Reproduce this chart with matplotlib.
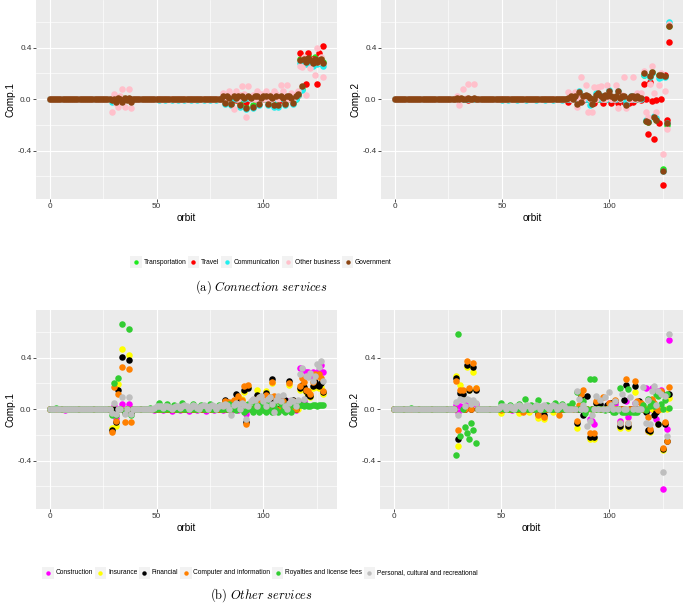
import numpy as np
import matplotlib
matplotlib.use("Agg")
import matplotlib.pyplot as plt
from matplotlib.patches import Rectangle
from matplotlib.lines import Line2D

plt.rcParams['font.family'] = ['Liberation Sans', 'DejaVu Sans']
plt.rcParams['axes.unicode_minus'] = False

N_ORBIT = 129  # orbits 0..128; values not listed below are read as 0.0

# ---------------- (a) Connection services ----------------
conn_labels = ["Transportation", "Travel", "Communication", "Other business", "Government"]
conn_colors = ["#1FEA1F", "#FF0000", "#22EEEE", "#FFC0CB", "#8B4513"]

transport_c1 = {29: -0.01, 34: 0.01, 85: -0.03, 89: -0.04, 92: -0.06, 95: -0.05, 105: -0.04, 110: -0.03,
                116: 0.03, 117: 0.31, 118: 0.08, 119: 0.32, 120: 0.30, 121: 0.34, 122: 0.31, 123: 0.29,
                124: 0.33, 125: 0.30, 126: 0.31, 127: 0.32, 128: 0.29}
travel_c1 = {34: -0.01, 81: 0.005, 82: 0.01, 84: 0.015, 85: 0.005, 86: 0.01, 87: -0.005, 88: 0.01, 89: 0.005,
             90: 0.015, 92: -0.02, 93: 0.01, 94: 0.005, 95: 0.01, 97: 0.015, 98: 0.005, 99: 0.01, 101: 0.01,
             102: 0.005, 103: 0.015, 105: 0.01, 106: 0.005, 107: 0.01, 108: -0.005, 109: 0.01, 110: 0.005,
             111: 0.015, 113: 0.01, 114: 0.005, 115: 0.03,
             116: 0.03, 117: 0.36, 118: 0.28, 119: 0.30, 120: 0.12, 121: 0.36, 122: 0.29, 123: 0.31,
             124: 0.30, 125: 0.12, 126: 0.36, 127: 0.28, 128: 0.41}
comm_c1 = {29: -0.02, 31: -0.01, 38: -0.01,
           51: -0.006, 54: -0.006, 57: -0.006, 60: -0.006, 63: -0.006, 66: -0.006, 69: -0.006, 72: -0.006,
           75: -0.006, 78: -0.006,
           81: 0.01, 82: -0.04, 83: 0.01, 85: -0.05, 86: 0.01, 88: 0.01, 89: -0.06, 90: 0.01, 92: -0.08,
           93: 0.01, 95: -0.07, 96: 0.01, 98: -0.05, 100: 0.01, 102: -0.05, 103: 0.01, 105: -0.06, 107: -0.06,
           108: 0.01, 110: -0.05, 112: 0.01, 114: -0.04,
           116: 0.03, 117: 0.28, 118: 0.07, 119: 0.29, 120: 0.27, 121: 0.30, 122: 0.28, 123: 0.26,
           124: 0.29, 125: 0.27, 126: 0.28, 127: 0.29, 128: 0.26}
other_c1 = {29: -0.10, 30: 0.04, 31: -0.03, 32: -0.06, 33: 0.02, 34: 0.08, 35: -0.06, 37: 0.08, 38: -0.07,
            81: 0.05, 82: 0.02, 84: 0.065, 85: 0.03, 86: -0.08, 87: 0.06, 89: 0.03, 90: 0.10, 91: 0.04,
            92: -0.14, 93: 0.10, 95: 0.03, 97: 0.06, 99: 0.04, 101: 0.065, 103: 0.03, 105: 0.06, 106: 0.04,
            108: 0.11, 109: 0.06, 111: 0.11, 113: 0.05, 115: 0.04,
            116: 0.06, 117: 0.26, 118: 0.25, 119: 0.33, 120: 0.03, 121: 0.31, 122: 0.24, 123: 0.30,
            124: 0.19, 125: 0.40, 126: 0.29, 127: 0.33, 128: 0.17}
gov_c1 = {29: -0.01, 31: -0.02, 32: 0.01, 34: -0.02, 35: 0.01, 36: -0.01, 37: 0.01, 38: -0.02,
          81: 0.02, 82: -0.03, 83: 0.02, 84: 0.01, 85: -0.04, 86: 0.02, 87: 0.01, 88: 0.02, 89: -0.05,
          90: 0.02, 91: 0.01, 92: -0.07, 93: 0.02, 94: 0.01, 95: -0.06, 96: 0.02, 97: 0.02, 98: -0.04,
          99: 0.01, 100: 0.02, 101: 0.02, 102: -0.04, 103: 0.02, 104: 0.01, 105: -0.05, 106: 0.02,
          107: -0.05, 108: 0.02, 109: 0.01, 110: -0.04, 111: 0.02, 112: 0.02, 113: 0.01, 114: -0.03, 115: 0.02,
          116: 0.04, 117: 0.30, 118: 0.10, 119: 0.31, 120: 0.29, 121: 0.32, 122: 0.30, 123: 0.28,
          124: 0.31, 125: 0.29, 126: 0.30, 127: 0.31, 128: 0.28}

transport_c2 = {116: 0.19, 117: -0.17, 118: -0.18, 119: 0.18, 120: 0.21, 121: -0.14, 122: -0.16, 123: 0.19,
                124: 0.18, 125: -0.545, 126: 0.18, 127: -0.20, 128: 0.57}
travel_c2 = {34: -0.005, 81: -0.025, 83: 0.005, 85: 0.01, 88: -0.01, 90: 0.005, 92: -0.02, 93: -0.03,
             95: 0.005, 97: -0.03, 99: 0.005, 101: -0.03, 103: 0.005, 104: -0.03, 107: -0.02, 109: -0.03,
             111: -0.02, 113: 0.005, 115: -0.01,
             116: 0.115, 118: -0.27, 119: 0.135, 120: -0.015, 121: -0.31, 122: -0.01, 123: -0.19,
             125: -0.67, 126: 0.19, 127: -0.16, 128: 0.445}
comm_c2 = {29: 0.005, 50: -0.006, 53: -0.006, 57: -0.006, 61: -0.006, 66: -0.006, 70: -0.006, 74: -0.006,
           78: -0.006, 83: 0.01, 86: 0.06, 88: 0.02, 91: -0.05, 94: 0.05, 95: 0.05, 97: 0.02, 100: 0.07,
           102: 0.01, 104: 0.06, 106: 0.01, 108: -0.04, 110: 0.02, 113: 0.02,
           116: 0.19, 117: -0.16, 118: -0.17, 119: 0.17, 120: 0.20, 121: -0.13, 122: -0.15, 123: 0.16,
           124: 0.17, 125: -0.56, 126: 0.17, 127: -0.19, 128: 0.60}
other_c2 = {29: 0.02, 30: -0.05, 32: 0.075, 33: 0.01, 34: 0.12, 37: 0.12,
            81: 0.055, 84: 0.055, 85: -0.06, 87: 0.17, 89: 0.11, 90: -0.10, 92: -0.10, 93: 0.09, 95: 0.095,
            96: 0.10, 99: 0.11, 100: 0.03, 103: 0.11, 104: -0.07, 106: 0.03, 107: 0.17, 108: -0.07,
            111: 0.17, 113: 0.05, 115: 0.05,
            116: 0.22, 117: -0.10, 118: -0.14, 119: 0.12, 120: 0.26, 121: 0.045, 122: -0.10, 123: 0.11,
            124: 0.20, 125: -0.43, 126: 0.065, 127: -0.23, 128: 0.58}
gov_c2 = {29: 0.005, 31: 0.01, 34: 0.01, 37: 0.01,
          81: 0.01, 82: 0.02, 84: 0.02, 85: -0.035, 86: 0.056, 87: -0.02, 88: 0.02, 89: 0.03, 90: 0.02,
          91: 0.01, 92: -0.04, 94: 0.03, 95: 0.05, 96: 0.02, 97: 0.01, 98: 0.03, 99: 0.02, 100: 0.065,
          101: 0.02, 102: 0.01, 103: 0.02, 104: 0.06, 105: 0.01, 106: 0.02, 107: 0.02, 108: -0.05,
          109: 0.01, 110: 0.02, 111: 0.02, 112: 0.01, 113: 0.02, 114: 0.01, 115: 0.01,
          116: 0.20, 117: -0.17, 118: -0.18, 119: 0.18, 120: 0.21, 121: -0.14, 122: -0.16, 123: 0.19,
          124: 0.19, 125: -0.56, 126: 0.18, 127: -0.19, 128: 0.57}

# ---------------- (b) Other services ----------------
oth_labels = ["Construction", "Insurance", "Financial", "Computer and information",
              "Royalties and license fees", "Personal, cultural and recreational"]
oth_colors = ["#FF00FF", "#FFFF00", "#000000", "#FF8000", "#32CD32", "#BEBEBE"]

constr_c1 = {7: -0.005, 30: 0.02, 31: -0.07, 34: 0.04, 35: -0.02, 37: 0.04, 38: -0.03,
             49: -0.01, 53: -0.01, 57: -0.012, 61: -0.01, 65: -0.012, 69: -0.01, 73: -0.012, 77: -0.01,
             81: -0.01, 85: -0.015, 88: -0.01, 92: -0.04, 95: -0.015, 98: -0.01, 101: -0.01, 104: 0.07,
             105: -0.015, 108: 0.07, 109: -0.01, 112: 0.06, 113: -0.01, 115: -0.01,
             116: 0.04, 117: 0.32, 118: 0.31, 119: 0.06, 120: 0.29, 121: 0.29, 122: 0.26, 123: 0.29,
             124: 0.27, 125: 0.28, 126: 0.30, 127: 0.34, 128: 0.29}
insur_c1 = {29: -0.15, 31: -0.13, 32: 0.195, 34: 0.47, 35: -0.02, 37: 0.42, 38: -0.03,
            82: 0.05, 84: 0.04, 86: 0.06, 88: 0.09, 90: 0.08, 91: 0.13, 93: 0.17, 95: 0.06, 97: 0.145,
            99: 0.07, 101: 0.14, 103: 0.08, 104: 0.20, 106: 0.07, 108: 0.05, 110: 0.06, 112: 0.19, 114: 0.05,
            117: 0.15, 118: 0.17, 119: 0.16, 120: 0.13, 121: 0.10, 122: 0.09, 123: 0.16, 124: 0.19,
            125: 0.17, 126: 0.16, 127: 0.17, 128: 0.12}
finan_c1 = {29: -0.16, 31: -0.10, 32: 0.15, 34: 0.405, 35: -0.02, 37: 0.385, 38: -0.03,
            82: 0.07, 84: 0.05, 86: 0.06, 87: 0.12, 89: 0.06, 91: 0.15, 92: -0.10, 93: 0.165, 95: 0.07,
            97: 0.11, 99: 0.07, 101: 0.125, 103: 0.08, 104: 0.23, 106: 0.07, 108: 0.06, 110: 0.07,
            112: 0.22, 114: 0.07,
            116: 0.05, 117: 0.16, 118: 0.19, 119: 0.17, 120: 0.14, 121: 0.11, 122: 0.10, 123: 0.18,
            124: 0.21, 125: 0.19, 126: 0.18, 127: 0.20, 128: 0.13}
comp_c1 = {29: -0.18, 30: 0.17, 31: -0.09, 32: 0.12, 34: 0.325, 35: -0.10, 37: 0.31, 38: -0.10,
           82: 0.06, 84: 0.055, 86: 0.07, 88: 0.10, 90: 0.07, 91: 0.18, 92: -0.12, 93: 0.185, 95: 0.06,
           97: 0.08, 99: 0.06, 101: 0.11, 103: 0.09, 104: 0.21, 105: 0.10, 107: 0.08, 109: 0.06,
           112: 0.205, 114: 0.06,
           116: 0.03, 117: 0.18, 118: 0.245, 119: 0.21, 120: 0.15, 121: 0.14, 122: 0.12, 123: 0.21,
           124: 0.27, 125: 0.26, 126: 0.27, 127: 0.24, 128: 0.14}
royal_c1 = {3: 0.012, 29: -0.05, 30: 0.20, 31: -0.05, 32: 0.24, 34: 0.66, 35: -0.03, 37: 0.62, 38: -0.05,
            47: 0.01, 51: 0.045, 55: 0.04, 58: 0.035, 62: 0.045, 67: 0.04, 71: 0.035, 75: 0.04, 79: 0.03,
            82: 0.03, 84: 0.04, 86: 0.03, 87: -0.01, 88: 0.03, 90: 0.04, 91: -0.02, 92: -0.01, 93: 0.04,
            95: -0.02, 96: 0.04, 98: -0.02, 99: 0.03, 100: -0.01, 101: -0.02, 102: 0.04, 103: -0.01,
            104: -0.02, 105: 0.03, 106: -0.01, 107: -0.02, 108: 0.04, 109: -0.01, 110: -0.02, 111: 0.03,
            112: -0.01, 113: -0.02, 114: 0.03, 115: 0.04,
            116: 0.03, 117: 0.035, 118: 0.03, 119: 0.025, 120: 0.03, 121: 0.02, 122: 0.025, 123: 0.03,
            124: 0.03, 125: 0.025, 126: 0.03, 127: 0.035, 128: 0.03}
pers_c1 = {29: -0.03, 30: 0.05, 31: -0.04, 34: 0.095, 35: -0.04, 37: 0.095, 38: -0.04,
           49: 0.01, 50: 0.02, 51: 0.025, 52: 0.02, 53: 0.01, 54: 0.02, 55: 0.025, 56: 0.015, 58: 0.015,
           59: 0.025, 60: 0.02, 61: 0.005, 62: 0.02, 63: 0.03, 64: 0.02, 66: 0.015, 67: 0.03, 68: 0.025,
           69: 0.01, 71: 0.02, 72: 0.03, 73: 0.02, 75: 0.02, 76: 0.03, 77: 0.02, 79: 0.02, 80: 0.03,
           81: 0.02, 82: 0.04, 83: 0.03, 85: -0.045, 86: 0.03, 87: 0.05, 88: 0.04, 90: 0.05, 91: 0.03,
           92: -0.08, 93: 0.02, 94: 0.06, 95: 0.08, 96: 0.07, 97: 0.02, 98: 0.09, 99: 0.10, 100: 0.06,
           101: 0.02, 102: 0.08, 103: 0.09, 104: 0.04, 105: -0.02, 106: 0.07, 107: 0.10, 108: 0.06,
           109: 0.11, 110: 0.02, 112: 0.05, 113: 0.07, 114: 0.06, 115: 0.02,
           116: 0.07, 117: 0.27, 118: 0.32, 119: 0.08, 120: 0.26, 121: 0.25, 122: 0.28, 123: 0.22,
           124: 0.26, 125: 0.35, 126: 0.33, 127: 0.37, 128: 0.22}

constr_c2 = {29: 0.03, 30: -0.025, 31: 0.02, 34: 0.04, 35: 0.03, 37: 0.05, 38: 0.04,
             55: -0.01, 62: -0.01, 69: -0.01,
             91: -0.08, 92: -0.09, 93: -0.12, 95: 0.03, 100: 0.05, 103: 0.04, 105: -0.09, 108: 0.06,
             109: -0.065, 112: 0.05, 117: 0.16, 118: -0.17, 120: 0.16, 122: -0.08, 123: 0.14, 124: 0.15,
             125: -0.625, 126: -0.11, 127: -0.155, 128: 0.535}
insur_c2 = {29: 0.26, 30: -0.29, 31: 0.19, 32: 0.08, 34: 0.33, 35: 0.15, 37: 0.29, 38: 0.16,
            50: -0.03, 58: -0.03, 63: -0.02, 67: -0.07, 70: -0.08, 74: -0.02,
            85: -0.15, 87: 0.09, 91: -0.23, 93: -0.23, 95: 0.03, 100: 0.04, 105: -0.15, 109: -0.15,
            112: 0.13, 118: -0.17, 119: -0.18, 123: -0.12, 125: -0.32, 126: -0.11, 128: 0.085}
finan_c2 = {29: 0.245, 30: -0.23, 31: 0.125, 32: 0.12, 34: 0.345, 35: 0.15, 37: 0.325, 38: 0.15,
            67: -0.04, 70: -0.05, 75: 0.02,
            85: -0.11, 87: 0.10, 88: -0.05, 90: 0.10, 91: -0.22, 93: -0.22, 94: 0.05, 96: 0.04, 99: 0.03,
            101: 0.05, 103: 0.06, 105: -0.135, 107: 0.07, 108: 0.19, 109: -0.135, 112: 0.18, 114: 0.06,
            117: -0.02, 118: -0.16, 119: -0.17, 120: 0.06, 121: -0.05, 122: -0.02, 123: -0.115,
            124: 0.13, 125: -0.31, 126: -0.12, 127: -0.245, 128: 0.115}
comp_c2 = {29: 0.215, 30: -0.165, 31: 0.15, 32: 0.145, 34: 0.375, 35: 0.16, 37: 0.355, 38: 0.165,
           50: -0.01, 55: 0.01, 60: -0.02, 67: -0.05, 70: -0.06, 77: -0.045,
           85: -0.09, 86: 0.03, 87: 0.12, 88: 0.15, 91: -0.19, 93: -0.19, 94: 0.06, 97: 0.09, 100: 0.05,
           103: 0.07, 105: -0.11, 108: 0.23, 109: -0.11, 112: 0.22, 113: 0.06, 115: 0.05, 118: -0.065,
           119: -0.155, 120: 0.08, 121: 0.05, 122: 0.01, 123: -0.01, 124: 0.14, 125: -0.30, 126: -0.10,
           127: -0.245, 128: 0.175}
royal_c2 = {8: 0.012, 29: -0.355, 30: 0.58, 31: -0.21, 33: -0.14, 34: -0.19, 35: -0.235, 36: -0.105,
            37: -0.165, 38: -0.265,
            50: 0.05, 54: 0.03, 58: 0.04, 61: 0.078, 64: 0.03, 67: 0.07, 71: 0.03, 75: 0.05, 78: 0.04,
            81: 0.02, 83: 0.05, 85: 0.13, 88: 0.06, 89: -0.03, 91: 0.23, 93: 0.23, 98: -0.01, 102: -0.02,
            103: -0.02, 105: 0.16, 106: -0.02, 107: -0.02, 108: -0.02, 109: 0.155, 110: -0.02, 111: -0.02,
            112: -0.02, 113: -0.02, 116: 0.03, 117: -0.01, 118: 0.08, 119: 0.02, 120: 0.05, 121: 0.02,
            122: 0.12, 123: 0.10, 124: 0.04, 126: 0.07, 127: 0.12, 128: 0.005}
pers_c2 = {29: 0.055, 30: -0.05, 31: 0.08, 32: 0.07, 33: 0.02, 34: 0.08, 35: 0.07, 36: 0.04, 37: 0.07, 38: 0.05,
           49: 0.01, 50: 0.025, 51: 0.02, 53: 0.015, 54: 0.025, 55: 0.01, 57: 0.02, 58: 0.03, 59: 0.015,
           61: 0.02, 62: 0.03, 63: 0.02, 65: 0.015, 66: 0.03, 67: 0.02, 69: 0.02, 70: 0.03, 71: 0.015,
           73: 0.02, 74: 0.03, 75: 0.02, 77: 0.015, 78: 0.03, 79: 0.02,
           85: 0.14, 86: 0.08, 88: 0.03, 90: -0.13, 91: -0.09, 92: -0.05, 94: 0.10, 96: 0.07, 98: 0.09,
           100: 0.13, 101: 0.03, 103: 0.06, 105: -0.11, 106: 0.12, 109: -0.11, 110: 0.09, 112: 0.05,
           116: 0.175, 117: -0.11, 118: 0.07, 119: -0.12, 120: 0.14, 121: 0.18, 122: 0.03, 123: 0.14,
           124: 0.12, 125: -0.49, 126: 0.10, 127: -0.21, 128: 0.58}


def full(d):
    arr = np.zeros(N_ORBIT)
    for k, v in d.items():
        arr[k] = v
    return arr


orbit = np.arange(N_ORBIT)

W, H = 685, 613
fig = plt.figure(figsize=(W / 100, H / 100), dpi=100)
fig.patch.set_facecolor('white')


def rect(x0, y0, x1, y1):
    return [x0 / W, 1 - y1 / H, (x1 - x0) / W, (y1 - y0) / H]


def panel(r, series, colors, ylabel):
    ax = fig.add_axes(r)
    ax.set_facecolor('#EBEBEB')
    for sp in ax.spines.values():
        sp.set_visible(False)
    ax.set_xlim(-6.4, 134.4)
    ax.set_ylim(-0.777, 0.77)
    ax.set_xticks([0, 50, 100])
    ax.set_xticks([25, 75, 125], minor=True)
    ax.set_yticks([-0.4, 0.0, 0.4])
    ax.set_yticklabels(['-0.4', '0.0', '0.4'])
    ax.set_yticks([-0.6, -0.2, 0.2, 0.6], minor=True)
    ax.grid(which='major', color='white', lw=0.85)
    ax.grid(which='minor', color='white', lw=0.45)
    ax.set_axisbelow(True)
    ax.tick_params(which='major', length=2.0, width=0.6, color='#333333', labelsize=5.9,
                   labelcolor='#333333', pad=1.2)
    ax.tick_params(which='minor', length=0)
    for d, c in zip(series, colors):
        ax.scatter(orbit, full(d), s=22, c=c, linewidths=0, zorder=2)
    ax.set_xlabel('orbit', fontsize=7.2, labelpad=1.5)
    ax.set_ylabel(ylabel, fontsize=7.2, labelpad=1.5)
    return ax


panel(rect(36, 0, 337, 199), [transport_c1, travel_c1, comm_c1, other_c1, gov_c1], conn_colors, 'Comp.1')
panel(rect(381, 0, 683, 199), [transport_c2, travel_c2, comm_c2, other_c2, gov_c2], conn_colors, 'Comp.2')
panel(rect(36, 310, 337, 509), [constr_c1, insur_c1, finan_c1, comp_c1, royal_c1, pers_c1], oth_colors, 'Comp.1')
panel(rect(380, 310, 683, 509), [constr_c2, insur_c2, finan_c2, comp_c2, royal_c2, pers_c2], oth_colors, 'Comp.2')


def legend(labels, colors, cx, cy, fs=4.8):
    r = fig.canvas.get_renderer()
    box, gt, gi = 11.5, 1.8, 1.5
    widths = []
    for lab in labels:
        t = fig.text(0, 0, lab, fontsize=fs)
        widths.append(t.get_window_extent(r).width)
        t.remove()
    total = sum(box + gt + w for w in widths) + gi * (len(labels) - 1)
    x = cx - total / 2
    for lab, col, w in zip(labels, colors, widths):
        fig.add_artist(Rectangle((x / W, 1 - (cy + box / 2) / H), box / W, box / H,
                                 transform=fig.transFigure, facecolor='#F2F2F2', edgecolor='none'))
        fig.add_artist(Line2D([(x + box / 2) / W], [1 - cy / H], marker='o', markersize=3.2,
                              markeredgewidth=0, color=col, linestyle='none', transform=fig.transFigure))
        fig.text((x + box + gt) / W, 1 - cy / H, lab, fontsize=fs, va='center', ha='left', color='black')
        x += box + gt + w + gi


legend(conn_labels, conn_colors, 261, 262)
legend(oth_labels, oth_colors, 260, 573)

fig.text(261 / W, 1 - 287 / H, r'$\mathrm{(a)}\ \mathit{Connection\ services}$', fontsize=9,
         ha='center', va='center', math_fontfamily='cm')
fig.text(261 / W, 1 - 595 / H, r'$\mathrm{(b)}\ \mathit{Other\ services}$', fontsize=9,
         ha='center', va='center', math_fontfamily='cm')

fig.savefig('out.png', dpi=100)
